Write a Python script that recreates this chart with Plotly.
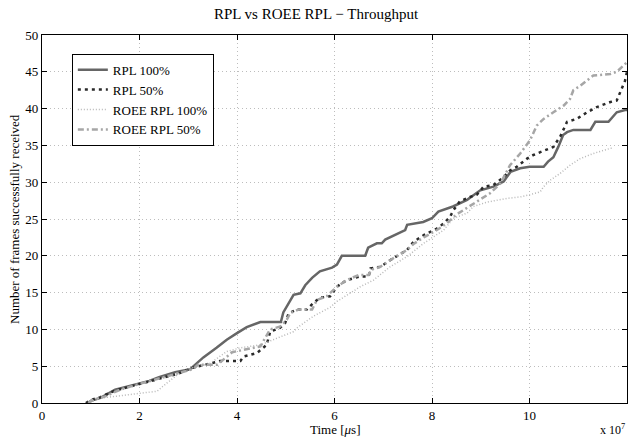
import plotly.graph_objects as go

# ---- data (time in units of 1e7 µs, frames received) ----
rpl100_x = [0.95, 1.0, 1.2, 1.5, 1.9, 2.2, 2.4, 2.73, 3.04, 3.31, 3.58, 3.79, 4.0, 4.2, 4.48, 4.9, 4.95,
            5.09, 5.16, 5.3, 5.4, 5.54, 5.7, 5.95, 6.05, 6.15, 6.63, 6.69, 6.87, 6.97, 7.04, 7.45, 7.49,
            7.82, 8.0, 8.13, 8.37, 8.43, 8.72, 8.99, 9.26, 9.47, 9.61, 9.81, 10.0, 10.29, 10.38, 10.49,
            10.59, 10.69, 10.77, 10.9, 11.25, 11.35, 11.62, 11.69, 11.79, 11.96, 12.0]
rpl100_y = [0, 0.3, 0.7, 1.8, 2.5, 3.0, 3.5, 4.2, 4.6, 6.2, 7.5, 8.6, 9.5, 10.3, 11.0, 11.0, 12.3,
            14.0, 14.7, 14.9, 16.0, 17.0, 17.9, 18.4, 18.8, 20.0, 20.0, 21.1, 21.7, 21.7, 22.2, 23.5, 24.2,
            24.6, 25.1, 26.0, 26.5, 26.7, 27.6, 28.9, 29.4, 30.1, 31.4, 31.9, 32.1, 32.1, 32.8, 33.4,
            34.8, 36.4, 36.8, 37.1, 37.1, 38.2, 38.2, 38.7, 39.5, 39.8, 39.8]

rpl50_x = [0.9, 1.0, 1.2, 1.5, 1.9, 2.4, 2.8, 3.1, 3.3, 3.65, 4.07, 4.13, 4.41, 4.61, 4.68, 4.88, 4.99,
           5.06, 5.23, 5.43, 5.57, 5.7, 5.91, 6.05, 6.25, 6.53, 6.7, 6.74, 6.94, 7.14, 7.49, 7.62, 7.83,
           8.1, 8.24, 8.37, 8.44, 8.57, 8.78, 8.92, 9.06, 9.26, 9.47, 9.6, 9.74, 9.95, 10.08, 10.22, 10.49,
           10.63, 10.77, 10.97, 11.18, 11.38, 11.66, 11.79, 11.9, 11.96, 12.0]
rpl50_y = [0, 0.4, 0.8, 1.7, 2.4, 3.3, 4.0, 4.8, 5.1, 5.7, 5.7, 6.3, 6.8, 7.9, 9.7, 10.2, 10.9,
           12.2, 12.7, 12.7, 13.6, 14.3, 14.5, 15.8, 16.7, 17.2, 17.2, 18.3, 18.5, 19.4, 20.8, 21.9, 22.8,
           23.7, 24.4, 25.3, 26.2, 27.4, 28.0, 28.3, 29.4, 29.6, 30.7, 31.6, 32.1, 33.2, 33.7, 34.1, 34.8,
           36.2, 38.2, 38.6, 39.5, 40.2, 40.9, 41.1, 42.7, 43.8, 45.0]

roee100_x = [1.0, 1.1, 1.5, 2.01, 2.36, 2.56, 2.83, 3.1, 3.45, 3.79, 4.07, 4.48, 4.82, 5.16, 5.23, 5.57,
             5.91, 6.05, 6.53, 6.8, 7.14, 7.49, 7.83, 8.24, 8.44, 8.72, 8.85, 9.13, 9.54, 9.81, 10.01,
             10.22, 10.29, 10.43, 10.63, 10.83, 11.04, 11.31, 11.66, 11.7]
roee100_y = [0, 0.6, 0.9, 1.3, 1.6, 2.7, 4.1, 4.8, 5.4, 7.0, 7.5, 7.9, 8.8, 9.7, 10.2, 11.8,
             13.0, 13.8, 15.8, 16.7, 18.5, 19.9, 21.7, 23.5, 25.1, 25.8, 26.7, 27.3, 27.8, 28.0, 28.3,
             28.7, 29.4, 30.3, 31.2, 32.3, 33.2, 33.9, 34.6, 34.6]

roee50_x = [0.95, 1.0, 1.3, 1.6, 2.0, 2.4, 2.8, 3.1, 3.2, 3.6, 3.9, 4.1, 4.48, 4.68, 4.89, 5.02, 5.09,
            5.26, 5.54, 5.64, 5.84, 6.05, 6.25, 6.5, 6.7, 6.75, 6.94, 7.14, 7.49, 7.62, 7.83, 8.1, 8.3,
            8.5, 8.85, 9.19, 9.4, 9.6, 9.81, 10.01, 10.15, 10.29, 10.49, 10.7, 10.83, 10.9, 11.04, 11.18,
            11.31, 11.66, 11.79, 12.0]
roee50_y = [0, 0.3, 0.9, 1.8, 2.6, 3.3, 4.0, 4.6, 5.2, 5.2, 6.9, 7.2, 7.7, 10.0, 10.4, 11.3, 12.2,
            12.7, 12.7, 14.0, 14.5, 15.8, 16.7, 17.4, 17.4, 18.1, 18.5, 19.4, 20.8, 21.6, 22.5, 23.5, 24.4,
            25.6, 27.1, 28.5, 29.8, 32.3, 33.9, 35.7, 37.7, 38.6, 39.5, 40.4, 41.3, 42.5, 43.1, 43.8,
            44.5, 44.7, 45.0, 46.3]

x_ticks = [0, 2, 4, 6, 8, 10, 12]
y_ticks = [0, 5, 10, 15, 20, 25, 30, 35, 40, 45, 50]

FONT = "Liberation Serif, Times New Roman, serif"

fig = go.Figure()
fig.add_trace(go.Scatter(x=rpl100_x, y=rpl100_y, mode="lines", name="RPL 100%",
                         line=dict(color="#666666", width=2.5, dash="solid")))
fig.add_trace(go.Scatter(x=rpl50_x, y=rpl50_y, mode="lines", name="RPL 50%",
                         line=dict(color="#2a2a2a", width=2.5, dash="3px,4px")))
fig.add_trace(go.Scatter(x=roee100_x, y=roee100_y, mode="lines", name="ROEE RPL 100%",
                         line=dict(color="#b8b8b8", width=1.5, dash="1px,2px")))
fig.add_trace(go.Scatter(x=roee50_x, y=roee50_y, mode="lines", name="ROEE RPL 50%",
                         line=dict(color="#a6a6a6", width=2.5, dash="6px,3px,2px,3px")))

axis_common = dict(showline=True, linecolor="black", linewidth=1.2, mirror="allticks",
                   ticks="inside", ticklen=5, tickcolor="black",
                   showgrid=True, gridcolor="#bdbdbd", griddash="1px,3px", gridwidth=1,
                   zeroline=False, tickfont=dict(family=FONT, size=13, color="black"))

fig.update_xaxes(range=[0, 12], tickvals=x_ticks, ticktext=[str(v) for v in x_ticks], **axis_common)
fig.update_yaxes(range=[0, 50], tickvals=y_ticks, ticktext=[str(v) for v in y_ticks], **axis_common)

fig.update_layout(
    width=632, height=438,
    margin=dict(l=42, r=5, t=35, b=35),
    paper_bgcolor="white", plot_bgcolor="white",
    font=dict(family=FONT, size=13, color="black"),
    title=dict(text="RPL vs ROEE RPL − Throughput", x=0.5, xanchor="center",
               y=1 - 14 / 438, yanchor="middle", font=dict(family=FONT, size=15, color="black")),
    legend=dict(x=0.051, y=0.949, xanchor="left", yanchor="top", bgcolor="white",
                bordercolor="black", borderwidth=1, font=dict(family=FONT, size=13, color="black"),
                itemwidth=30, tracegroupgap=0),
    showlegend=True,
    annotations=[
        dict(text="Time [<i>μ</i>s]", xref="paper", yref="paper", x=0.5, y=0, yshift=-26,
             xanchor="center", yanchor="middle", showarrow=False,
             font=dict(family=FONT, size=13, color="black")),
        dict(text="x 10<sup>7</sup>", xref="paper", yref="paper", x=1, y=0, yshift=-26, xshift=0,
             xanchor="right", yanchor="middle", showarrow=False,
             font=dict(family=FONT, size=12, color="black")),
        dict(text="Number of frames successfully received", xref="paper", yref="paper",
             x=0, xshift=-28, y=0.5, textangle=-90, xanchor="center", yanchor="middle",
             showarrow=False, font=dict(family=FONT, size=13, color="black")),
    ],
)

fig.write_html("out.html", config={"displayModeBar": False},
               post_script="document.body.style.margin='0';document.body.style.padding='0';")
